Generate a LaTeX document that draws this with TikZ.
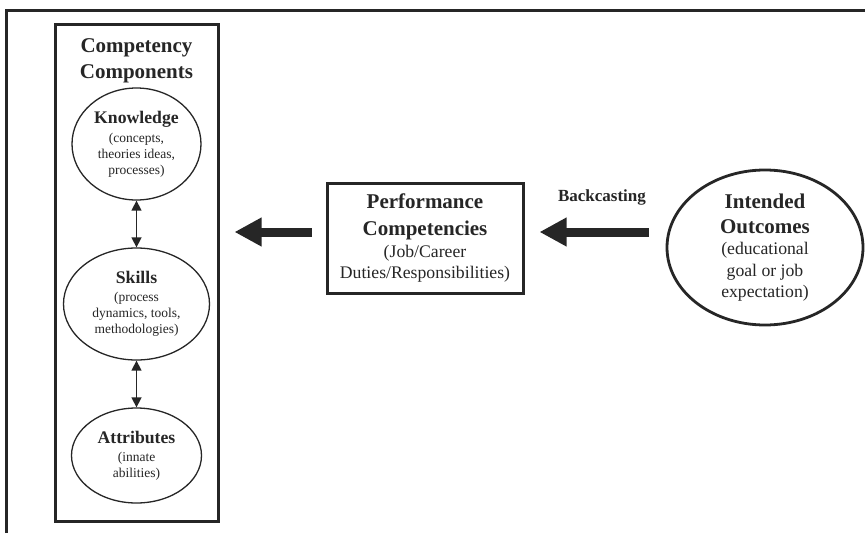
\documentclass[tikz,border=0pt]{standalone}
\usepackage{fontspec}
\setmainfont{Liberation Serif}
\usetikzlibrary{arrows.meta,shapes.geometric}
\definecolor{ink}{gray}{0.15}
\begin{document}
\begin{tikzpicture}[x=1pt,y=-1pt,
  every node/.style={text=ink},
  bigbold/.style={font=\bfseries\fontsize{21}{26.5}\selectfont},
  regtext/.style={font=\fontsize{17.7}{21.5}\selectfont},
  smtext/.style={font=\fontsize{13.5}{16}\selectfont},
  thickbox/.style={draw=ink, line width=3pt, rectangle, inner sep=0pt},
  compell/.style={draw=ink, line width=1.3pt, ellipse, inner sep=0pt, align=center, smtext},
  bigarrow/.style={draw=ink, line width=9pt, -{Triangle[length=27pt,width=27pt]}},
  dblarrow/.style={draw=ink, line width=1.5pt, {Triangle[length=10pt,width=10pt]}-{Triangle[length=10pt,width=10pt]}}
]
\useasboundingbox (0,0) rectangle (865,533);
\fill[white] (0,0) rectangle (865,533);
% outer frame (top and left)
\coordinate (fbl) at (6.5,533);
\coordinate (ftl) at (6.5,10.5);
\coordinate (ftr) at (865,10.5);
\draw[ink, line width=3.5pt] (fbl) -- (ftl) -- (ftr);

% competency components box
\node[thickbox, minimum width=163pt, minimum height=497pt] (comp) at (136.5,272.5) {};
\node[bigbold, align=center] (title) at (136.5,61) {Competency\\Components};

\node[compell, minimum width=129pt, minimum height=112pt] (know) at (136.5,144)
  {{\bfseries\fontsize{17.7}{19}\selectfont Knowledge}\\[3pt](concepts,\\theories ideas,\\processes)};
\node[compell, minimum width=146pt, minimum height=112pt] (skill) at (136.5,304)
  {{\bfseries\fontsize{17.7}{19}\selectfont Skills}\\[2pt](process\\dynamics, tools,\\methodologies)};
\node[compell, minimum width=130pt, minimum height=95pt] (attr) at (136.5,455.5)
  {{\bfseries\fontsize{17.7}{19}\selectfont Attributes}\\[2pt](innate\\abilities)};

\draw[dblarrow] (know) -- (skill);
\draw[dblarrow] (skill) -- (attr);

% performance competencies
\node[thickbox, minimum width=196pt, minimum height=110pt, align=center, regtext] (perf) at (425,238)
  {{\bfseries\fontsize{21}{26}\selectfont Performance}\\[5.5pt]{\bfseries\fontsize{21}{26}\selectfont Competencies}\\(Job/Career\\Duties/Responsibilities)};

% intended outcomes
\node[draw=ink, line width=2.8pt, ellipse, inner sep=0pt, minimum width=196pt, minimum height=155pt, align=center, regtext] (outc) at (765,247.5)
  {{\bfseries\fontsize{21}{26}\selectfont Intended}\\[3.5pt]{\bfseries\fontsize{21}{26}\selectfont Outcomes}\\(educational\\goal or job\\expectation)};

\node[font=\bfseries\fontsize{17}{20}\selectfont] (back) at (602,197) {Backcasting};

% big arrows
\draw[bigarrow] ([xshift=-17pt,yshift=15.5pt]outc.west) -- ([xshift=15pt,yshift=6pt]perf.east);
\draw[bigarrow, shorten <=14pt, shorten >=15pt] ([yshift=6pt]perf.west) -- ([yshift=6pt]perf.west -| comp.east);
\end{tikzpicture}
\end{document}
